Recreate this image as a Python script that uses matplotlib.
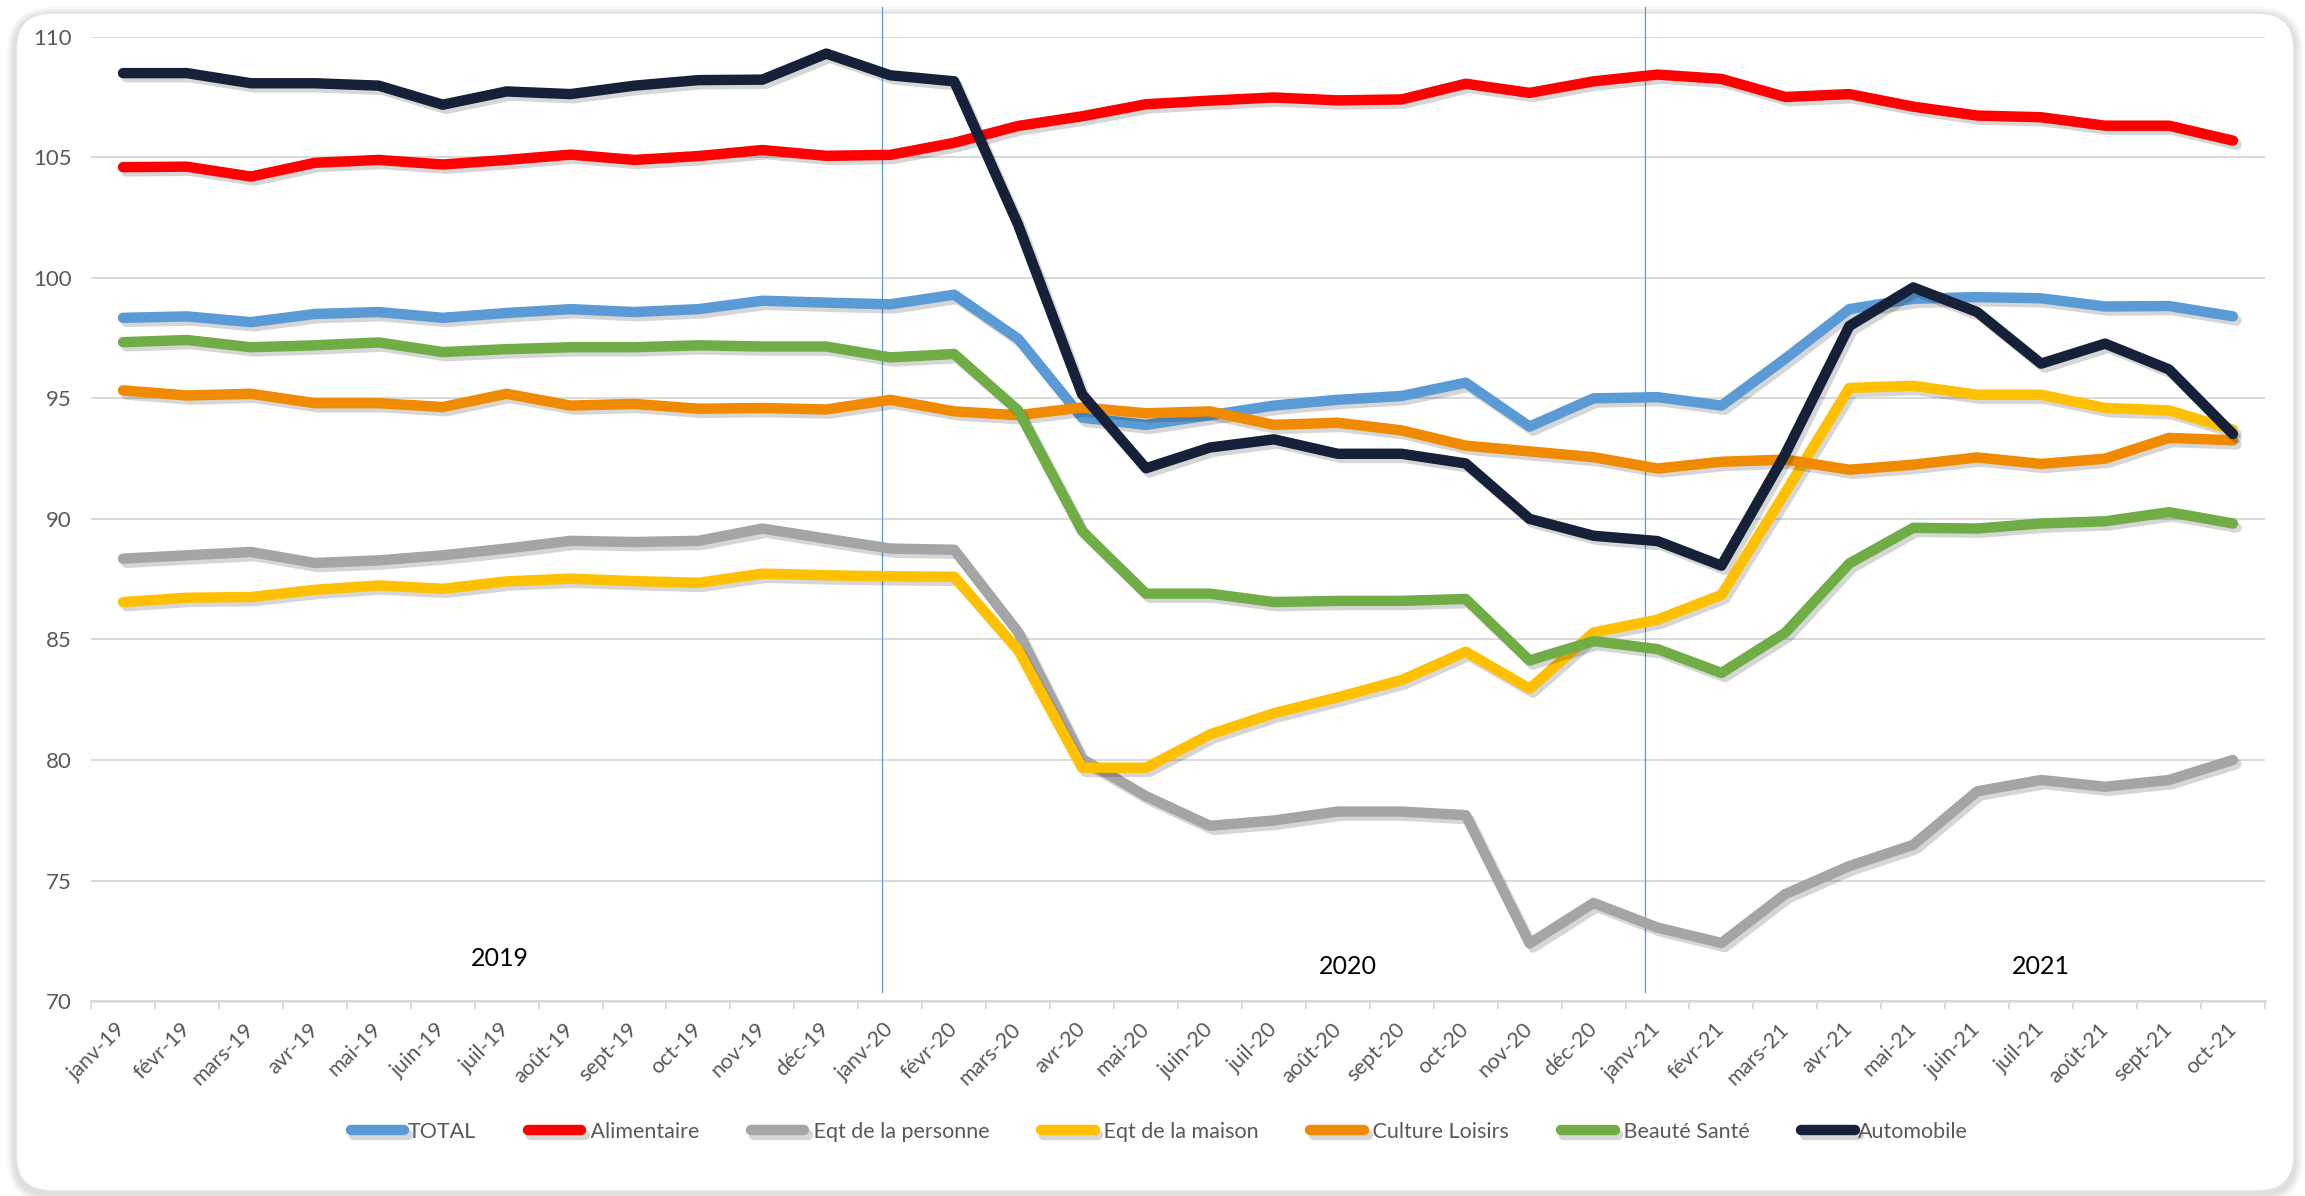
import matplotlib
matplotlib.use('Agg')
import matplotlib.pyplot as plt
import matplotlib.patheffects as pe
from matplotlib.patches import FancyBboxPatch
from matplotlib.transforms import IdentityTransform
import numpy as np

plt.rcParams['font.family'] = ['Lato', 'DejaVu Sans']

months = ['janv-19', 'févr-19', 'mars-19', 'avr-19', 'mai-19', 'juin-19', 'juil-19',
          'août-19', 'sept-19', 'oct-19', 'nov-19', 'déc-19',
          'janv-20', 'févr-20', 'mars-20', 'avr-20', 'mai-20', 'juin-20', 'juil-20',
          'août-20', 'sept-20', 'oct-20', 'nov-20', 'déc-20',
          'janv-21', 'févr-21', 'mars-21', 'avr-21', 'mai-21', 'juin-21', 'juil-21',
          'août-21', 'sept-21', 'oct-21']

total = [98.34, 98.40, 98.16, 98.50, 98.58, 98.34, 98.54, 98.70, 98.58, 98.70, 99.05, 98.97,
         98.90, 99.30, 97.47, 94.20, 93.90, 94.30, 94.70, 94.94, 95.10, 95.65, 93.83, 95.00,
         95.05, 94.70, 96.65, 98.70, 99.13, 99.20, 99.15, 98.81, 98.83, 98.40]
alimentaire = [104.59, 104.61, 104.20, 104.77, 104.89, 104.70, 104.89, 105.11, 104.89, 105.05,
               105.30, 105.06, 105.10, 105.60, 106.30, 106.70, 107.20, 107.35, 107.48, 107.36,
               107.40, 108.05, 107.67, 108.15, 108.43, 108.25, 107.50, 107.62, 107.10, 106.73,
               106.66, 106.31, 106.31, 105.69]
eqt_personne = [88.35, 88.49, 88.63, 88.17, 88.28, 88.49, 88.77, 89.09, 89.04, 89.09, 89.60,
                89.18, 88.77, 88.72, 85.30, 80.05, 78.50, 77.27, 77.49, 77.86, 77.86, 77.71,
                72.39, 74.07, 73.05, 72.41, 74.44, 75.60, 76.48, 78.70, 79.17, 78.89, 79.17,
                80.00]
eqt_maison = [86.55, 86.73, 86.76, 87.06, 87.24, 87.10, 87.41, 87.52, 87.42, 87.35, 87.73,
              87.66, 87.62, 87.60, 84.56, 79.68, 79.68, 81.06, 81.94, 82.60, 83.32, 84.49,
              82.96, 85.29, 85.82, 86.85, 91.10, 95.43, 95.52, 95.15, 95.15, 94.60, 94.50,
              93.70]
culture_loisirs = [95.33, 95.12, 95.19, 94.80, 94.80, 94.64, 95.19, 94.70, 94.77, 94.57, 94.60,
                   94.54, 94.94, 94.46, 94.30, 94.62, 94.38, 94.46, 93.90, 93.99, 93.67, 93.04,
                   92.80, 92.56, 92.09, 92.37, 92.46, 92.04, 92.25, 92.55, 92.28, 92.50, 93.36,
                   93.26]
beaute_sante = [97.33, 97.42, 97.12, 97.20, 97.32, 96.92, 97.04, 97.12, 97.12, 97.20, 97.15,
                97.15, 96.70, 96.84, 94.50, 89.50, 86.90, 86.90, 86.55, 86.60, 86.60, 86.68,
                84.13, 84.93, 84.60, 83.61, 85.28, 88.15, 89.63, 89.60, 89.81, 89.90, 90.28,
                89.81]
automobile = [108.49, 108.49, 108.07, 108.07, 107.97, 107.18, 107.73, 107.62, 107.97, 108.20,
              108.22, 109.30, 108.40, 108.15, 102.20, 95.17, 92.10, 92.96, 93.30, 92.70, 92.70,
              92.30, 90.00, 89.30, 89.08, 88.06, 92.70, 98.00, 99.60, 98.58, 96.44, 97.27,
              96.20, 93.52]

series_names = ['TOTAL', ' Alimentaire', ' Eqt de la personne', ' Eqt de la maison',
                ' Culture Loisirs', ' Beauté Santé', 'Automobile']
series_values = [total, alimentaire, eqt_personne, eqt_maison, culture_loisirs,
                 beaute_sante, automobile]
series_colors = ['#5B9BD5', '#FF0000', '#A5A5A5', '#FFC000', '#F08A00', '#70AD47', '#172039']

year_labels = ['2019', '2020', '2021']

W, H = 2305, 1196
fig = plt.figure(figsize=(W / 100, H / 100), dpi=100)
fig.patch.set_facecolor('white')

# rounded frame with soft shadow (pixel coordinates)
for k, a in enumerate([0.05, 0.06, 0.07, 0.08]):
    e = 8 - 2 * k
    sh = FancyBboxPatch((15 - e, 1 - e), 2280 + 2 * e, 1180 + 2 * e,
                        boxstyle='round,pad=0,rounding_size=%d' % (36 + e),
                        transform=IdentityTransform(), facecolor='#808080',
                        edgecolor='none', alpha=a, zorder=-10)
    fig.patches.append(sh)
frame = FancyBboxPatch((16, 5), 2278, 1178, boxstyle='round,pad=0,rounding_size=36',
                       transform=IdentityTransform(), facecolor='white',
                       edgecolor='#E3E3E3', linewidth=1.2, zorder=-9)
fig.patches.append(frame)

ax = fig.add_axes([0.0395, 0.163, 0.9431, 0.8063])
ax.patch.set_visible(False)

x = np.arange(len(months))
shadow = [pe.SimpleLineShadow(offset=(2.5, -3), shadow_color='black', alpha=0.16), pe.Normal()]
for name, vals, col in zip(series_names, series_values, series_colors):
    ax.plot(x, vals, color=col, lw=7.5, label=name, solid_capstyle='round',
            solid_joinstyle='round', path_effects=shadow, zorder=3)

ax.set_xlim(-0.5, len(months) - 0.5)
ax.set_ylim(70, 110)
ax.set_yticks(np.arange(70, 111, 5))
ax.yaxis.grid(True, color='#D9D9D9', lw=1.4)
ax.set_axisbelow(True)
for s in ['top', 'right', 'left']:
    ax.spines[s].set_visible(False)
ax.spines['bottom'].set_color('#D9D9D9')
ax.spines['bottom'].set_linewidth(1.8)

ax.tick_params(axis='y', length=0, labelsize=16, labelcolor='#595959', pad=14)
ax.set_xticks(x)
ax.set_xticklabels(months, rotation=45, ha='right', va='center', rotation_mode='anchor')
ax.tick_params(axis='x', which='major', length=0, labelsize=15.5, labelcolor='#595959', pad=18)
ax.set_xticks(np.arange(-0.5, len(months), 1), minor=True)
ax.tick_params(axis='x', which='minor', length=5.5, width=1.3, color='#D9D9D9')

# year separators
for xv in [11.87, 23.81]:
    ln = ax.axvline(xv, ymin=0.009, ymax=1.031, color='#5B9BD5', lw=0.9, zorder=2)
    ln.set_clip_on(False)

for lab, (xp, yp) in zip(year_labels, [(5.9, 71.77), (19.15, 71.44), (30.0, 71.44)]):
    ax.text(xp, yp, lab, ha='center', va='center', fontsize=18, color='black')

leg = fig.legend(loc='center', bbox_to_anchor=(0.503, 0.0535), ncol=7, frameon=False,
                 fontsize=15.5, handlelength=2.5, handletextpad=0.15, columnspacing=2.4,
                 labelcolor='#595959')

fig.savefig('out.png', dpi=100, facecolor='white')
